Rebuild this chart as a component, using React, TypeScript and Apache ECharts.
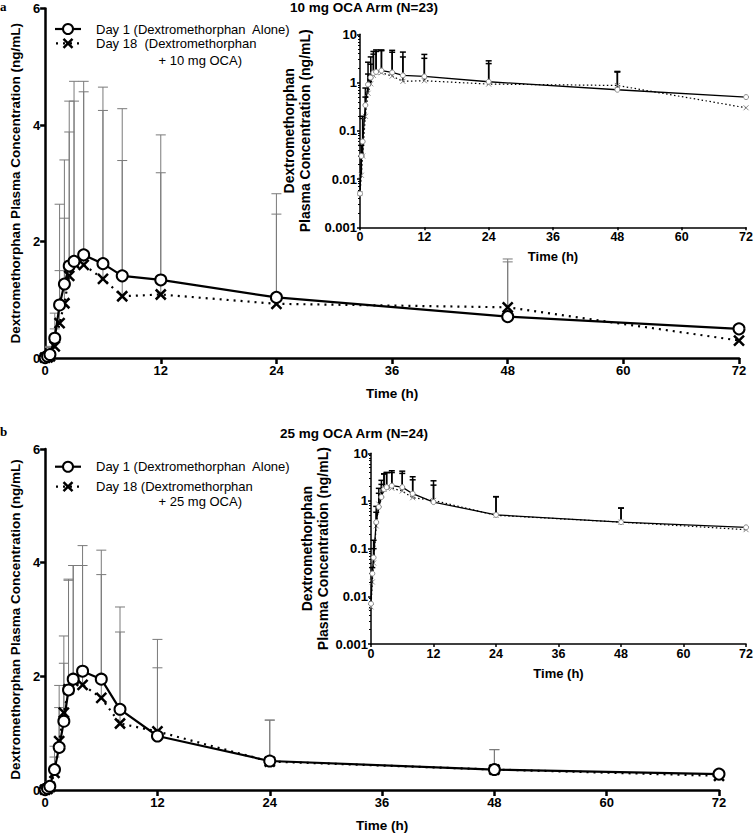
import React, { useEffect, useRef } from "react";
import * as echarts from "echarts";

// ---- data ----
const TIMES = [0, 0.25, 0.5, 1, 1.5, 2, 2.5, 3, 4, 6, 8, 12, 24, 48, 72];
const X_TICKS = [0, 12, 24, 36, 48, 60, 72];
const Y_LIN_TICKS = [0, 2, 4, 6];
const Y_LOG_LABELS = ["0.001", "0.01", "0.1", "1", "10"];

// Panel a: 10 mg OCA arm
const A_DAY1 = [0.005, 0.03, 0.06, 0.34, 0.91, 1.27, 1.58, 1.66, 1.77, 1.62, 1.41, 1.34, 1.04, 0.71, 0.5];
const A_DAY18 = [0.005, 0.012, 0.03, 0.2, 0.6, 0.94, 1.41, 1.63, 1.6, 1.36, 1.06, 1.09, 0.93, 0.87, 0.3];
const A_DAY1_UP = [null, 0.05, 0.2, 0.77, 2.64, 3.4, 4.41, 4.75, 4.75, 4.65, 4.28, 3.83, 2.82, 1.65, null];
const A_DAY18_UP = [null, 0.03, 0.18, 0.5, 1.5, 2.4, 3.88, 4.41, 4.57, 4.25, 3.39, 3.18, 2.47, 1.7, null];

// Panel b: 25 mg OCA arm
const B_DAY1 = [0.007, 0.03, 0.065, 0.36, 0.75, 1.21, 1.76, 1.95, 2.09, 1.95, 1.42, 0.95, 0.51, 0.36, 0.28];
const B_DAY18 = [0.006, 0.02, 0.05, 0.3, 0.86, 1.36, 1.77, 1.92, 1.85, 1.62, 1.17, 1.03, 0.5, 0.36, 0.25];
const B_DAY1_UP = [null, 0.04, 0.15, 0.77, 1.84, 2.71, 3.71, 3.95, 4.3, 4.22, 3.22, 2.65, 1.23, 0.71, null];
const B_DAY18_UP = [null, null, 0.1, 0.58, 1.45, 2.23, 3.69, 3.95, 3.95, 3.79, 2.78, 2.15, 1.23, 0.71, null];

const PANELS = [
  { letter: "a", title: "10 mg OCA Arm (N=23)", dose: "+ 10 mg OCA)", d1: A_DAY1, d18: A_DAY18, u1: A_DAY1_UP, u18: A_DAY18_UP, d18Label: "Day 18  (Dextromethorphan", d1Label: "Day 1 (Dextromethorphan  Alone)" },
  { letter: "b", title: "25 mg OCA Arm (N=24)", dose: "+ 25 mg OCA)", d1: B_DAY1, d18: B_DAY18, u1: B_DAY1_UP, u18: B_DAY18_UP, d18Label: "Day 18 (Dextromethorphan", d1Label: "Day 1 (Dextromethorphan  Alone)" },
];

const FONT = "Liberation Sans, Arial, sans-serif";
const X_PATH = "path://M0,0L10,10M10,0L0,10";

// layout
const MAIN_GRIDS = [
  { left: 39, top: 8.5, width: 700, height: 349.5 },
  { left: 38, top: 449, width: 681, height: 342 },
];
const INSET_GRIDS = [
  { left: 360, top: 34.3, width: 387, height: 193 },
  { left: 371, top: 453.3, width: 378, height: 190.7 },
];

function pairs(vals: number[]) {
  return TIMES.map((t, i) => [t, vals[i]]);
}
function errData(mean: number[], up: (number | null)[]) {
  const out: number[][] = [];
  TIMES.forEach((t, i) => {
    const u = up[i];
    if (u != null && u > mean[i]) out.push([t, mean[i], u]);
  });
  return out;
}

function errorSeries(data: number[][], xi: number, color: string, lw: number, cap: number, z: number) {
  return {
    type: "custom",
    xAxisIndex: xi,
    yAxisIndex: xi,
    z,
    silent: true,
    data,
    encode: { x: 0, y: [1, 2] },
    renderItem: (params: any, api: any) => {
      const x = api.value(0);
      const m = api.value(1);
      const t = api.value(2);
      const p0 = api.coord([x, m]);
      const p1 = api.coord([x, t]);
      return {
        type: "group",
        children: [
          { type: "line", shape: { x1: p0[0], y1: p0[1], x2: p1[0], y2: p1[1] }, style: { stroke: color, lineWidth: lw } },
          { type: "line", shape: { x1: p1[0] - cap, y1: p1[1], x2: p1[0] + cap, y2: p1[1] }, style: { stroke: color, lineWidth: lw } },
        ],
      };
    },
  };
}

export default function App() {
  const ref = useRef<HTMLDivElement>(null);
  useEffect(() => {
    if (!ref.current) return;
    const chart = echarts.init(ref.current, undefined, { renderer: "svg" });

    const grids: any[] = [];
    const xAxes: any[] = [];
    const yAxes: any[] = [];
    const series: any[] = [];
    const graphics: any[] = [];

    PANELS.forEach((p, pi) => {
      const mi = pi * 2;
      const ii = pi * 2 + 1;
      grids[mi] = { ...MAIN_GRIDS[pi], containLabel: false };
      grids[ii] = { ...INSET_GRIDS[pi], containLabel: false };

      // main axes
      xAxes[mi] = {
        gridIndex: mi, type: "value", min: 0, max: 72, interval: 12,
        name: "Time (h)", nameLocation: "middle", nameGap: 28,
        nameTextStyle: { fontFamily: FONT, fontWeight: "bold", fontSize: 13.5, color: "#000" },
        axisLine: { lineStyle: { color: "#000", width: 2.5 } },
        axisTick: { show: true, length: 6, lineStyle: { color: "#000", width: 2.5 } },
        axisLabel: { fontFamily: FONT, fontWeight: "bold", fontSize: 13, color: "#000", margin: 6,
          formatter: (v: number) => (X_TICKS.includes(v) ? String(v) : "") },
        splitLine: { show: false },
      };
      yAxes[mi] = {
        gridIndex: mi, type: "value", min: 0, max: 6, interval: 2,
        name: "Dextromethorphan Plasma Concentration (ng/mL)", nameLocation: "middle", nameGap: 22, nameRotate: 90,
        nameTextStyle: { fontFamily: FONT, fontWeight: "bold", fontSize: 13.5, color: "#000" },
        axisLine: { show: true, lineStyle: { color: "#000", width: 2.5 } },
        axisTick: { show: true, length: 5, lineStyle: { color: "#000", width: 2.5 } },
        axisLabel: { fontFamily: FONT, fontWeight: "bold", fontSize: 13, color: "#000", margin: 5,
          formatter: (v: number) => (Y_LIN_TICKS.includes(v) ? String(v) : "") },
        splitLine: { show: false },
      };
      // inset axes
      xAxes[ii] = {
        gridIndex: ii, type: "value", min: 0, max: 72, interval: 12,
        name: "Time (h)", nameLocation: "middle", nameGap: 23,
        nameTextStyle: { fontFamily: FONT, fontWeight: "bold", fontSize: 13, color: "#000" },
        axisLine: { lineStyle: { color: "#000", width: 1.5 } },
        axisTick: { show: true, length: 3, lineStyle: { color: "#000", width: 1.5 } },
        axisLabel: { fontFamily: FONT, fontWeight: "bold", fontSize: 12.5, color: "#000", margin: 3 },
        splitLine: { show: false },
      };
      yAxes[ii] = {
        gridIndex: ii, type: "log", logBase: 10, min: 0.001, max: 10,
        name: "Dextromethorphan\nPlasma Concentration (ng/mL)", nameLocation: "middle", nameGap: 24, nameRotate: 90,
        nameTextStyle: { fontFamily: FONT, fontWeight: "bold", fontSize: 14, color: "#000", lineHeight: 16.5 },
        axisLine: { show: true, lineStyle: { color: "#000", width: 1.5 } },
        axisTick: { show: true, length: 3, lineStyle: { color: "#000", width: 1.5 } },
        minorTick: { show: true, splitNumber: 9, length: 2, lineStyle: { color: "#000", width: 1 } },
        axisLabel: { fontFamily: FONT, fontWeight: "bold", fontSize: 13, color: "#000", margin: 3,
          formatter: (v: number) => {
            const k = Math.round(Math.log10(v)) + 3;
            return Y_LOG_LABELS[k] ?? "";
          } },
        splitLine: { show: false },
      };

      // main series
      series.push(errorSeries(errData(p.d1, p.u1), mi, "#7a7a7a", 1, 5, 1));
      series.push(errorSeries(errData(p.d18, p.u18), mi, "#7a7a7a", 1, 5, 1));
      series.push({
        type: "line", xAxisIndex: mi, yAxisIndex: mi, z: 3, data: pairs(p.d1),
        lineStyle: { color: "#000", width: 2.2, type: "solid" },
        symbol: "circle", symbolSize: 11,
        itemStyle: { color: "#fff", borderColor: "#000", borderWidth: 2 },
        showAllSymbol: true,
      });
      series.push({
        type: "line", xAxisIndex: mi, yAxisIndex: mi, z: 2, data: pairs(p.d18),
        lineStyle: { color: "#000", width: 2.2, type: [2, 5] },
        symbol: X_PATH, symbolSize: 10,
        itemStyle: { color: "none", borderColor: "#000", borderWidth: 2.5 },
        showAllSymbol: true,
      });
      // inset series
      series.push(errorSeries(errData(p.d1, p.u1), ii, "#000", 1.5, 3, 1));
      series.push(errorSeries(errData(p.d18, p.u18), ii, "#000", 1.5, 3, 1));
      series.push({
        type: "line", xAxisIndex: ii, yAxisIndex: ii, z: 3, data: pairs(p.d1),
        lineStyle: { color: "#000", width: 1.3, type: "solid" },
        symbol: "circle", symbolSize: 5,
        itemStyle: { color: "#fff", borderColor: "#888", borderWidth: 1 },
        showAllSymbol: true,
      });
      series.push({
        type: "line", xAxisIndex: ii, yAxisIndex: ii, z: 2, data: pairs(p.d18),
        lineStyle: { color: "#000", width: 1.2, type: [1.5, 2.5] },
        symbol: X_PATH, symbolSize: 5,
        itemStyle: { color: "none", borderColor: "#888", borderWidth: 1 },
        showAllSymbol: true,
      });

      // titles, letters, legend
      const top = pi === 0 ? 0 : 425;
      graphics.push({
        type: "text", left: 0, top: top, style: { text: p.letter, fontFamily: "Liberation Serif, serif", fontWeight: "bold", fontSize: 13, fill: "#000" },
      });
      graphics.push({
        type: "text", x: pi === 0 ? 364 : 354, y: pi === 0 ? 7 : 433,
        style: { text: p.title, fontFamily: FONT, fontWeight: "bold", fontSize: 13.5, fill: "#000", align: "center", verticalAlign: "middle" },
      });
      const ly1 = pi === 0 ? 29 : 466.7;
      const ly2 = pi === 0 ? 43.3 : 486.7;
      const ly3 = pi === 0 ? 60.7 : 501.7;
      graphics.push({ type: "line", shape: { x1: 55, y1: ly1, x2: 81, y2: ly1 }, style: { stroke: "#000", lineWidth: 2.2 } });
      graphics.push({ type: "circle", shape: { cx: 68, cy: ly1, r: 5 }, style: { fill: "#fff", stroke: "#000", lineWidth: 2 } });
      graphics.push({ type: "line", shape: { x1: 56, y1: ly2, x2: 81, y2: ly2 }, style: { stroke: "#000", lineWidth: 2.2, lineDash: [2, 5] } });
      graphics.push({ type: "line", shape: { x1: 63.5, y1: ly2 - 4.5, x2: 72.5, y2: ly2 + 4.5 }, style: { stroke: "#000", lineWidth: 2.5 } });
      graphics.push({ type: "line", shape: { x1: 72.5, y1: ly2 - 4.5, x2: 63.5, y2: ly2 + 4.5 }, style: { stroke: "#000", lineWidth: 2.5 } });
      graphics.push({ type: "text", x: 96, y: ly1, style: { text: p.d1Label, fontFamily: FONT, fontSize: 13, fill: "#000", verticalAlign: "middle" } });
      graphics.push({ type: "text", x: 96, y: ly2, style: { text: p.d18Label, fontFamily: FONT, fontSize: 13, fill: "#000", verticalAlign: "middle" } });
      graphics.push({ type: "text", x: 242, y: ly3, style: { text: p.dose, fontFamily: FONT, fontSize: 13, fill: "#000", align: "right", verticalAlign: "middle" } });
    });

    chart.setOption({
      animation: false,
      backgroundColor: "#fff",
      grid: grids,
      xAxis: xAxes,
      yAxis: yAxes,
      series,
      graphic: graphics,
    });
    return () => chart.dispose();
  }, []);
  return <div ref={ref} style={{ position: "absolute", left: 0, top: 0, width: 756, height: 833 }} />;
}
